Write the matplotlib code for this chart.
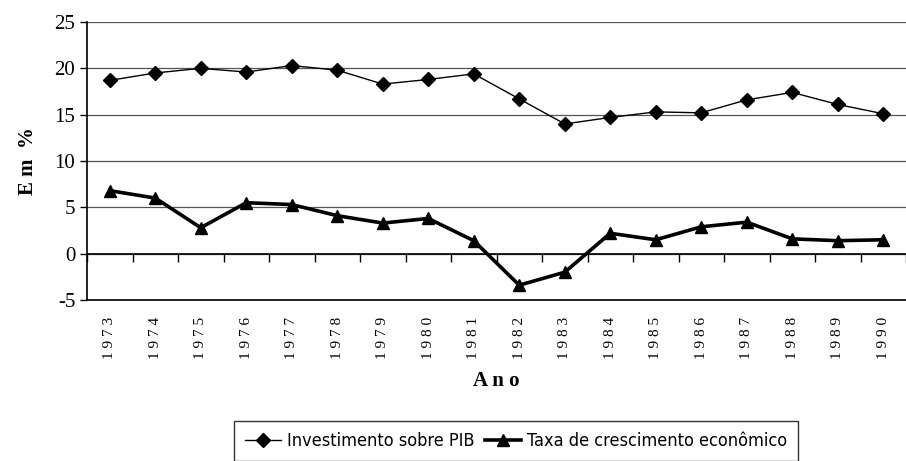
import numpy as np
import matplotlib.pyplot as plt
from matplotlib import font_manager

# dados
anos = [1973, 1974, 1975, 1976, 1977, 1978, 1979, 1980, 1981,
        1982, 1983, 1984, 1985, 1986, 1987, 1988, 1989, 1990]
investimento = [18.7, 19.5, 20.0, 19.6, 20.3, 19.8, 18.3, 18.8, 19.4,
                16.7, 14.0, 14.7, 15.3, 15.2, 16.6, 17.4, 16.1, 15.1]
crescimento = [6.8, 6.0, 2.8, 5.5, 5.3, 4.1, 3.3, 3.8, 1.4,
               -3.4, -2.0, 2.2, 1.5, 2.9, 3.4, 1.6, 1.4, 1.5]
yticks = [-5, 0, 5, 10, 15, 20, 25]

serif = 'Liberation Serif'

# procura uma fonte estreita (normal, sem negrito) para a legenda
cond = None
for f in font_manager.fontManager.ttflist:
    estreita = 'Narrow' in f.name or 'Condensed' in f.name or 'condensed' in str(f.stretch)
    if estreita and f.weight in (400, 'normal', 'regular') and f.style == 'normal':
        cond = f
        break
if cond is not None:
    leg_prop = font_manager.FontProperties(fname=cond.fname, size=13)
else:
    leg_prop = font_manager.FontProperties(family='Liberation Sans', size=12)

fig = plt.figure(figsize=(9.06, 4.61), dpi=100)
ax = fig.add_axes([87/906, 1-300/461, (906-87)/906, 278/461])

x = np.arange(len(anos))
ax.plot(x, investimento, color='black', lw=1.0, marker='D', ms=7.5,
        label='Investimento sobre PIB')
ax.plot(x, crescimento, color='black', lw=2.6, marker='^', ms=8.5,
        label='Taxa de crescimento econômico')

ax.set_xlim(-0.5, len(anos) - 0.5)
ax.set_ylim(-5, 25)
ax.set_yticks(yticks)
ax.set_yticklabels([str(v) for v in yticks], fontfamily=serif, fontsize=15)
ax.yaxis.grid(True, color='#555555', lw=0.9)
ax.set_axisbelow(True)
ax.axhline(0, color='black', lw=1.2)

ax.set_xticks(x)
ax.set_xticklabels([' '.join(str(a)) for a in anos], rotation=90,
                   fontfamily=serif, fontsize=11)
ax.tick_params(axis='x', length=0, pad=12)
ax.tick_params(axis='y', length=5, direction='out', width=1)

# marcas do eixo de categorias em y=0
sec = ax.secondary_xaxis(5/30)
sec.set_xticks(np.arange(len(anos) + 1) - 0.5)
sec.set_xticklabels([])
sec.tick_params(length=6, direction='out', width=1)
sec.spines['bottom'].set_visible(False)

for s in ['top', 'right']:
    ax.spines[s].set_visible(False)
ax.spines['left'].set_linewidth(1.2)
ax.spines['bottom'].set_linewidth(1.2)

ax.set_ylabel('E m  %', fontfamily=serif, fontsize=15, fontweight='bold',
              labelpad=12)
ax.set_xlabel('A n o', fontfamily=serif, fontsize=15, fontweight='bold',
              labelpad=9)

leg = fig.legend(loc='center', bbox_to_anchor=(516/906, 1-441/461),
                 ncol=2, frameon=True, fancybox=False, edgecolor='black',
                 handlelength=2.0, columnspacing=0.6, handletextpad=0.3,
                 borderpad=0.6, prop=leg_prop)
leg.get_frame().set_linewidth(1.0)

fig.savefig('out.png', dpi=100)
